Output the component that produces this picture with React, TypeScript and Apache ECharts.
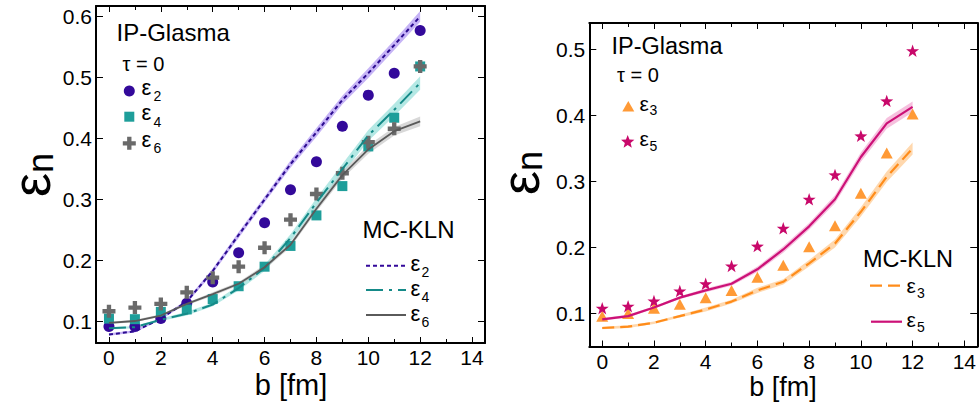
import { useEffect, useRef } from 'react';
import * as echarts from 'echarts';

const FONT = "'Liberation Sans', Arial, Helvetica, sans-serif";

// impact parameter grid [fm]
const impact = [0, 1, 2, 3, 4, 5, 6, 7, 8, 9, 10, 11, 12];
const xMajorTicks = [0, 2, 4, 6, 8, 10, 12, 14];
const xMinorTicks = [1, 3, 5, 7, 9, 11, 13];
const leftYTicks = [0.1, 0.2, 0.3, 0.4, 0.5, 0.6];
const rightYTicks = [0.1, 0.2, 0.3, 0.4, 0.5];

// IP-Glasma, tau = 0 (points)
const glasmaE2 = [0.092, 0.092, 0.105, 0.13, 0.165, 0.213, 0.262, 0.316, 0.362, 0.42, 0.471, 0.507, 0.577];
const glasmaE4 = [0.105, 0.104, 0.116, 0.12, 0.137, 0.158, 0.19, 0.224, 0.274, 0.322, 0.387, 0.434, 0.518];
const glasmaE6 = [0.117, 0.123, 0.129, 0.148, 0.172, 0.19, 0.221, 0.267, 0.309, 0.343, 0.394, 0.416, 0.518];
const glasmaE3 = [0.096, 0.1, 0.108, 0.114, 0.124, 0.135, 0.155, 0.173, 0.201, 0.233, 0.282, 0.343, 0.402];
const glasmaE5 = [0.108, 0.111, 0.119, 0.134, 0.145, 0.172, 0.202, 0.229, 0.273, 0.31, 0.369, 0.422, 0.498];

// MC-KLN (curves) and the half-width of their error bands
const klnE2 = [0.079, 0.084, 0.105, 0.133, 0.183, 0.242, 0.3, 0.358, 0.41, 0.463, 0.507, 0.553, 0.6];
const klnE4 = [0.089, 0.091, 0.103, 0.113, 0.128, 0.155, 0.188, 0.237, 0.295, 0.35, 0.405, 0.447, 0.491];
const klnE6 = [0.098, 0.101, 0.11, 0.129, 0.145, 0.162, 0.189, 0.226, 0.285, 0.34, 0.382, 0.412, 0.428];
const klnE3 = [0.078, 0.08, 0.086, 0.096, 0.106, 0.118, 0.135, 0.148, 0.176, 0.206, 0.254, 0.307, 0.35];
const klnE5 = [0.091, 0.096, 0.109, 0.124, 0.135, 0.145, 0.167, 0.197, 0.232, 0.273, 0.337, 0.388, 0.413];
const bandE2 = [0.002, 0.002, 0.002, 0.003, 0.004, 0.005, 0.005, 0.006, 0.007, 0.007, 0.008, 0.008, 0.009];
const bandE4 = [0.002, 0.002, 0.002, 0.003, 0.003, 0.004, 0.005, 0.006, 0.007, 0.008, 0.009, 0.01, 0.011];
const bandE6 = [0.002, 0.002, 0.002, 0.002, 0.003, 0.003, 0.004, 0.004, 0.005, 0.006, 0.007, 0.007, 0.008];
const bandE3 = [0.002, 0.002, 0.002, 0.002, 0.003, 0.003, 0.004, 0.004, 0.005, 0.006, 0.007, 0.008, 0.009];
const bandE5 = [0.002, 0.002, 0.002, 0.002, 0.003, 0.003, 0.004, 0.005, 0.005, 0.006, 0.007, 0.008, 0.008];

const CROSS = 'path://M4,0H8V4H12V8H8V12H4V8H0V4H4Z';
const STAR =
  'path://M10,0L12.35,6.76L19.51,6.91L13.8,11.24L15.88,18.09L10,14L4.12,18.09L6.2,11.24L0.49,6.91L7.65,6.76Z';

function starPoints(cx: number, cy: number, R: number, r: number) {
  const pts: number[][] = [];
  for (let i = 0; i < 10; i++) {
    const a = -Math.PI / 2 + (i * Math.PI) / 5;
    const rad = i % 2 === 0 ? R : r;
    pts.push([cx + rad * Math.cos(a), cy + rad * Math.sin(a)]);
  }
  return pts;
}

function crossPoints(cx: number, cy: number, s: number) {
  const a = s / 2;
  const t = s / 6;
  return [
    [cx - t, cy - a], [cx + t, cy - a], [cx + t, cy - t], [cx + a, cy - t], [cx + a, cy + t], [cx + t, cy + t],
    [cx + t, cy + a], [cx - t, cy + a], [cx - t, cy + t], [cx - a, cy + t], [cx - a, cy - t], [cx - t, cy - t],
  ];
}

// text placed by its alphabetic baseline
function label(text: string, x: number, baseline: number, size: number, align = 'left') {
  return {
    type: 'text',
    x,
    y: baseline - 0.35 * size,
    style: {
      text,
      fill: '#000',
      fontSize: size,
      fontFamily: FONT,
      align,
      textAlign: align,
      verticalAlign: 'middle',
      textVerticalAlign: 'middle',
    },
  };
}

function epsLabel(sub: string, x: number, baseline: number, size: number, subSize: number, subDx: number, subDy: number) {
  return [label('ε', x, baseline, size), label(sub, x + subDx, baseline + subDy, subSize)];
}

function bandSeries(xi: number, yi: number, mid: number[], half: number[], fill: string) {
  return {
    type: 'custom',
    xAxisIndex: xi,
    yAxisIndex: yi,
    data: [[0, mid[0]]],
    silent: true,
    renderItem: (_p: any, api: any) => {
      const upper = impact.map((b, i) => api.coord([b, mid[i] + half[i]]));
      const lower = impact.map((b, i) => api.coord([b, mid[i] - half[i]])).reverse();
      return { type: 'polygon', shape: { points: upper.concat(lower) }, style: { fill } };
    },
  };
}

function lineSeries(xi: number, yi: number, values: number[], color: string, width: number, dash: any) {
  return {
    type: 'line',
    xAxisIndex: xi,
    yAxisIndex: yi,
    data: impact.map((b, i) => [b, values[i]]),
    showSymbol: false,
    symbol: 'none',
    lineStyle: { color, width, type: dash },
    silent: true,
  };
}

function pointSeries(xi: number, yi: number, values: number[], color: string, symbol: string, size: any) {
  return {
    type: 'scatter',
    xAxisIndex: xi,
    yAxisIndex: yi,
    data: impact.map((b, i) => [b, values[i]]),
    symbol,
    symbolSize: size,
    itemStyle: { color, opacity: 1 },
    silent: true,
  };
}

function xAxesFor(gridIndex: number) {
  const base = {
    type: 'value',
    gridIndex,
    min: -0.5,
    max: 14.5,
    splitLine: { show: false },
  };
  const tickStyle = { color: '#000', width: 1 };
  return [
    {
      ...base,
      position: 'bottom',
      axisLine: { show: true, onZero: false, lineStyle: { color: '#000', width: 2 } },
      axisTick: { show: true, inside: true, length: 6, customValues: xMajorTicks, lineStyle: tickStyle },
      axisLabel: {
        show: true,
        customValues: xMajorTicks,
        formatter: (v: number) => String(v),
        fontSize: 21,
        fontFamily: FONT,
        color: '#000',
        margin: 4,
      },
    },
    {
      ...base,
      position: 'bottom',
      axisLine: { show: false, onZero: false },
      axisTick: { show: true, inside: true, length: 4, customValues: xMinorTicks, lineStyle: tickStyle },
      axisLabel: { show: false },
    },
    {
      ...base,
      position: 'top',
      axisLine: { show: true, onZero: false, lineStyle: { color: '#000', width: 2 } },
      axisTick: { show: true, inside: true, length: 6, customValues: xMajorTicks, lineStyle: tickStyle },
      axisLabel: { show: false },
    },
    {
      ...base,
      position: 'top',
      axisLine: { show: false, onZero: false },
      axisTick: { show: true, inside: true, length: 4, customValues: xMinorTicks, lineStyle: tickStyle },
      axisLabel: { show: false },
    },
  ];
}

function yAxesFor(gridIndex: number, min: number, max: number, ticks: number[]) {
  const base = { type: 'value', gridIndex, min, max, splitLine: { show: false } };
  const tickStyle = { color: '#000', width: 1 };
  return [
    {
      ...base,
      position: 'left',
      axisLine: { show: true, onZero: false, lineStyle: { color: '#000', width: 2 } },
      axisTick: { show: true, inside: true, length: 7, customValues: ticks, lineStyle: tickStyle },
      axisLabel: {
        show: true,
        customValues: ticks,
        formatter: (v: number) => v.toFixed(1),
        fontSize: 21,
        fontFamily: FONT,
        color: '#000',
        margin: 4,
      },
    },
    {
      ...base,
      position: 'right',
      axisLine: { show: true, onZero: false, lineStyle: { color: '#000', width: 2 } },
      axisTick: { show: true, inside: true, length: 7, customValues: ticks, lineStyle: tickStyle },
      axisLabel: { show: false },
    },
  ];
}

// rotated "ε_n" axis title centred on (cx, cy)
function yTitle(cx: number, cy: number) {
  return {
    type: 'text',
    x: cx,
    y: cy,
    rotation: Math.PI / 2,
    style: {
      text: '{e|ε}{s|n}',
      fill: '#000',
      fontFamily: FONT,
      align: 'center',
      verticalAlign: 'middle',
      rich: {
        e: { fontSize: 54, fontFamily: FONT, fill: '#000', verticalAlign: 'middle', lineHeight: 54 },
        s: { fontSize: 36, fontFamily: FONT, fill: '#000', verticalAlign: 'bottom', lineHeight: 36 },
      },
    },
  };
}

function legendLine(x1: number, x2: number, y: number, color: string, width: number, dash: any) {
  return {
    type: 'line',
    shape: { x1, y1: y, x2, y2: y },
    style: { stroke: color, lineWidth: width, lineDash: dash },
  };
}

const C_E2 = '#33099a';
const C_E4 = '#1e9e9a';
const C_E6 = '#6a6a6a';
const C_E3 = '#ff9a36';
const C_E5 = '#c8086a';

export default function App() {
  const ref = useRef<HTMLDivElement>(null);

  useEffect(() => {
    if (!ref.current) return;
    const chart = echarts.init(ref.current, undefined, { renderer: 'svg' });

    const graphic: any[] = [
      // left panel annotations
      label('IP-Glasma', 116.5, 40.7, 24),
      label('τ = 0', 122.5, 71, 20),
      { type: 'circle', shape: { cx: 129.3, cy: 91, r: 5.5 }, style: { fill: C_E2 } },
      ...epsLabel('2', 141.5, 95, 22, 14, 12, 6),
      { type: 'rect', shape: { x: 124.3, y: 111.7, width: 10, height: 10 }, style: { fill: C_E4 } },
      ...epsLabel('4', 141.5, 120.5, 22, 14, 12, 6),
      { type: 'polygon', shape: { points: crossPoints(129.3, 143.3, 13) }, style: { fill: C_E6 } },
      ...epsLabel('6', 141.5, 147, 22, 14, 12, 6),
      label('MC-KLN', 362.5, 238.3, 24),
      legendLine(366, 406, 265.7, C_E2, 2, [4, 3]),
      ...epsLabel('2', 410.5, 271, 22, 14, 11, 5.5),
      legendLine(366, 406, 290, '#158a88', 2, [17, 6, 3, 6]),
      ...epsLabel('4', 410.5, 296.5, 22, 14, 11, 5.5),
      legendLine(366, 406, 315, '#5a5a5a', 1.8, null),
      ...epsLabel('6', 410.5, 321, 22, 14, 11, 5.5),
      yTitle(31, 175),

      // right panel annotations
      label('IP-Glasma', 611.5, 54.3, 23.5),
      label('τ = 0', 617, 81.5, 20),
      {
        type: 'polygon',
        shape: { points: [[628.3, 101], [634.3, 111.5], [622.3, 111.5]] },
        style: { fill: C_E3 },
      },
      ...epsLabel('3', 639.5, 110.5, 21, 14, 10, 4.5),
      { type: 'polygon', shape: { points: starPoints(627.7, 142, 7, 3) }, style: { fill: C_E5 } },
      ...epsLabel('5', 639.5, 146, 21, 14, 10, 4.5),
      label('MC-KLN', 863, 267.3, 23.5),
      legendLine(870, 902, 285.7, '#ff8c1a', 2.2, [12, 6]),
      ...epsLabel('3', 906.5, 293, 21, 14, 10.5, 4.5),
      legendLine(871, 902, 321.7, '#cc1177', 2.2, null),
      ...epsLabel('5', 906.5, 327, 21, 14, 10.5, 4.5),
      yTitle(520, 173),

      // axis titles
      label('b [fm]', 291, 395.5, 29, 'center'),
      label('b [fm]', 783, 396, 27, 'center'),
    ];

    chart.setOption({
      animation: false,
      backgroundColor: '#fff',
      grid: [
        { left: 96, top: 6, width: 389, height: 337, containLabel: false },
        { left: 589.3, top: 23, width: 391, height: 323.5, containLabel: false },
      ],
      xAxis: [...xAxesFor(0), ...xAxesFor(1)],
      yAxis: [...yAxesFor(0, 0.065, 0.617, leftYTicks), ...yAxesFor(1, 0.05, 0.54, rightYTicks)],
      series: [
        // left panel: even harmonics
        bandSeries(0, 0, klnE2, bandE2, 'rgba(160,130,240,0.6)'),
        bandSeries(0, 0, klnE4, bandE4, 'rgba(140,220,214,0.65)'),
        bandSeries(0, 0, klnE6, bandE6, 'rgba(190,190,190,0.6)'),
        lineSeries(0, 0, klnE2, '#2b0b8f', 2, [4, 3]),
        lineSeries(0, 0, klnE4, '#158a88', 2, [17, 6, 3, 6]),
        lineSeries(0, 0, klnE6, '#5a5a5a', 1.8, 'solid'),
        pointSeries(0, 0, glasmaE2, C_E2, 'circle', 11),
        pointSeries(0, 0, glasmaE4, C_E4, 'rect', 10),
        pointSeries(0, 0, glasmaE6, C_E6, CROSS, 13),
        // right panel: odd harmonics
        bandSeries(4, 2, klnE3, bandE3, 'rgba(255,200,140,0.7)'),
        bandSeries(4, 2, klnE5, bandE5, 'rgba(240,150,200,0.6)'),
        lineSeries(4, 2, klnE3, '#ff8c1a', 2.2, [12, 6]),
        lineSeries(4, 2, klnE5, '#cc1177', 2.2, 'solid'),
        pointSeries(4, 2, glasmaE3, C_E3, 'triangle', [12, 11]),
        pointSeries(4, 2, glasmaE5, C_E5, STAR, [13, 12.4]),
      ],
      graphic,
    } as any);

    return () => chart.dispose();
  }, []);

  return (
    <div
      ref={ref}
      style={{ position: 'fixed', left: 0, top: 0, width: 979, height: 405, background: '#fff' }}
    />
  );
}
